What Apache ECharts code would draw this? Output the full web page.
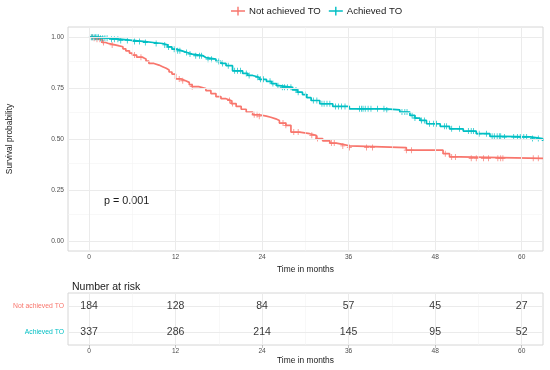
<!DOCTYPE html>
<html><head><meta charset="utf-8">
<script src="https://cdn.jsdelivr.net/npm/echarts@6/dist/echarts.min.js"></script>
<style>html,body{margin:0;padding:0;background:#fff}#c{width:550px;height:370px}</style>
</head><body><div id="c"></div>
<script>
// ---- data ----
const groups = ['Not achieved TO', 'Achieved TO'];
const notTime = [0, 0.6, 1.0, 1.8, 2.3, 2.8, 3.6, 4.2, 4.7, 5.1, 5.6, 6.0, 6.6, 7.4, 7.9, 8.3, 9.0, 9.7, 10.2, 10.7, 11.1, 11.5, 12.0, 12.8, 13.4, 13.9, 14.3, 15.2, 16.2, 16.9, 17.6, 18.3, 19.0, 19.7, 20.4, 21.1, 21.8, 22.7, 23.6, 24.6, 25.2, 25.9, 26.4, 27.3, 28.0, 29.2, 30.6, 31.5, 32.4, 33.4, 34.3, 35.2, 36.1, 44.0, 49.1, 50.0, 51.4];
const notSurv = [1.0, 0.995, 0.99, 0.974, 0.968, 0.962, 0.957, 0.953, 0.943, 0.933, 0.922, 0.912, 0.902, 0.893, 0.882, 0.871, 0.863, 0.855, 0.847, 0.839, 0.829, 0.819, 0.795, 0.786, 0.778, 0.767, 0.757, 0.748, 0.738, 0.723, 0.708, 0.698, 0.689, 0.674, 0.66, 0.646, 0.632, 0.619, 0.612, 0.607, 0.599, 0.591, 0.578, 0.567, 0.534, 0.526, 0.518, 0.502, 0.491, 0.48, 0.474, 0.466, 0.458, 0.445, 0.428, 0.412, 0.405];
const achTime = [0, 1.5, 2.8, 4.2, 6.0, 7.5, 8.9, 10.2, 10.9, 11.5, 12.2, 12.9, 13.6, 14.3, 15.8, 16.2, 17.6, 18.3, 19.0, 19.9, 21.3, 22.0, 22.7, 23.6, 24.6, 25.3, 26.0, 26.4, 28.2, 28.9, 29.6, 30.2, 30.8, 32.0, 33.8, 36.1, 41.2, 43.1, 44.5, 45.2, 45.9, 46.8, 48.7, 50.0, 51.9, 53.7, 55.6, 57.4, 61.2, 62.9];
const achSurv = [1.0, 0.995, 0.99, 0.984, 0.979, 0.974, 0.969, 0.962, 0.952, 0.941, 0.933, 0.925, 0.917, 0.909, 0.9, 0.892, 0.881, 0.871, 0.86, 0.835, 0.822, 0.812, 0.803, 0.793, 0.783, 0.772, 0.762, 0.754, 0.741, 0.73, 0.718, 0.703, 0.689, 0.673, 0.66, 0.648, 0.643, 0.632, 0.616, 0.603, 0.591, 0.575, 0.562, 0.55, 0.539, 0.526, 0.513, 0.51, 0.502, 0.49];
const notCens = [0.4, 0.7, 1.1, 1.5, 2.0, 3.2, 6.3, 7.2, 12.5, 13.0, 14.3, 19.5, 19.9, 22.9, 23.3, 23.6, 26.9, 27.3, 28.4, 29.0, 30.9, 31.7, 33.6, 34.0, 35.2, 36.1, 38.5, 39.3, 44.0, 44.7, 49.4, 50.3, 50.8, 53.0, 53.7, 54.7, 55.4, 56.7, 57.1, 57.4, 61.6, 62.3];
const achCens = [0.3, 0.5, 0.7, 0.9, 1.1, 1.3, 1.6, 1.9, 2.2, 2.5, 3.1, 3.5, 4.0, 4.4, 5.3, 6.3, 7.0, 7.8, 9.3, 10.5, 11.0, 11.8, 12.3, 12.6, 13.5, 14.0, 14.8, 15.3, 15.6, 16.5, 17.0, 18.0, 18.5, 19.3, 20.2, 20.6, 21.0, 21.8, 22.2, 23.4, 23.8, 24.2, 25.1, 25.5, 26.2, 26.8, 27.1, 27.5, 28.0, 28.7, 29.0, 30.0, 31.1, 31.6, 32.3, 32.6, 33.0, 33.4, 34.2, 34.6, 35.0, 35.5, 37.5, 37.8, 38.0, 38.3, 38.7, 39.1, 40.0, 40.9, 41.3, 43.4, 43.8, 44.1, 44.8, 45.2, 46.1, 46.5, 47.2, 47.8, 48.2, 49.3, 49.6, 50.3, 51.4, 52.6, 53.0, 53.3, 54.1, 55.1, 55.9, 56.2, 56.6, 56.9, 57.1, 57.6, 58.9, 59.4, 59.8, 60.3, 60.7, 61.5, 62.3];
const riskTimes = [0, 12, 24, 36, 48, 60];
const riskNot = [184, 128, 84, 57, 45, 27];
const riskAch = [337, 286, 214, 145, 95, 52];
const xTicks = [0, 12, 24, 36, 48, 60];
const xMinor = [6, 18, 30, 42, 54];
const yTicks = [0, 0.25, 0.5, 0.75, 1];
const yMinor = [0.125, 0.375, 0.625, 0.875];
const pText = 'p = 0.001';

// ---- styles ----
const colors = ['#F8766D', '#00BFC4'];
const FONT = 'Liberation Sans, Arial, sans-serif';
const xMin = -2.92, xMax = 62.96;
const majorCol = '#ebebeb', minorCol = '#f4f4f4', borderCol = '#d6d6d6', tickCol = '#b3b3b3';

function survAt(times, surv, t) { let v = surv[0]; for (let i = 0; i < times.length; i++) if (times[i] <= t) v = surv[i]; return v; }
function stepData(times, surv) { const d = times.map((t, i) => [t, surv[i]]); d.push([xMax, surv[surv.length - 1]]); return d; }
function censData(times, surv, cens) { return cens.map(t => [t, survAt(times, surv, t)]); }

const crossIcon = 'path://M4.3,0H5.7V10H4.3Z M0,4.3H10V5.7H0Z';
const legendIcon = 'path://M0,4.2H16V5.8H0Z M7.2,0H8.8V10H7.2Z';

function gridLines(vals, axis, col, w) { return vals.map(v => ({ [axis]: v, lineStyle: { color: col, width: w, type: 'solid' } })); }

const xAxisCommon = {
  type: 'value', min: xMin, max: xMax,
  splitLine: { show: false }, axisLine: { show: false },
  axisTick: { show: true, length: 3, lineStyle: { color: tickCol, width: 0.8 }, customValues: xTicks },
  axisLabel: { customValues: xTicks, fontSize: 6.6, color: '#4d4d4d', fontFamily: FONT, margin: 3 },
  name: 'Time in months', nameLocation: 'middle',
  nameTextStyle: { fontSize: 8.4, color: '#1a1a1a', fontFamily: FONT }
};

const chart = echarts.init(document.getElementById('c'), null, { renderer: 'canvas' });
chart.setOption({
  animation: false,
  backgroundColor: '#fff',
  textStyle: { fontFamily: FONT },
  legend: {
    data: groups, top: 1, left: 226, itemWidth: 14, itemHeight: 9, itemGap: 8,
    icon: legendIcon,
    textStyle: { fontSize: 9.6, color: '#1a1a1a', fontFamily: FONT, padding: [0, 0, 0, -1] },
    selectedMode: false
  },
  grid: [
    { left: 68, right: 7, top: 27, bottom: 119, show: true, borderColor: borderCol, borderWidth: 1, backgroundColor: '#fff', outerBoundsMode: 'none' },
    { left: 68, right: 7, top: 293, bottom: 25, show: true, borderColor: borderCol, borderWidth: 1, backgroundColor: '#fff', outerBoundsMode: 'none' }
  ],
  xAxis: [
    Object.assign({}, xAxisCommon, { gridIndex: 0, nameGap: 11.5 }),
    Object.assign({}, xAxisCommon, { gridIndex: 1, nameGap: 11.5 })
  ],
  yAxis: [
    {
      gridIndex: 0, type: 'value', min: -0.05, max: 1.05,
      splitLine: { show: false }, axisLine: { show: false },
      axisTick: { show: true, length: 3, lineStyle: { color: tickCol, width: 0.8 }, customValues: yTicks },
      axisLabel: { customValues: yTicks, formatter: v => v.toFixed(2), fontSize: 6.6, color: '#4d4d4d', fontFamily: FONT, margin: 4 },
      name: 'Survival probability', nameLocation: 'middle', nameGap: 54,
      nameTextStyle: { fontSize: 8.4, color: '#1a1a1a', fontFamily: FONT }
    },
    {
      gridIndex: 1, type: 'category', data: ['Achieved TO', 'Not achieved TO'],
      splitLine: { show: false }, axisLine: { show: false },
      axisTick: { show: true, length: 3, alignWithLabel: true, lineStyle: { color: tickCol, width: 0.8 } },
      axisLabel: { fontSize: 6.8, fontFamily: FONT, margin: 4, color: v => (v === groups[0] ? colors[0] : colors[1]) }
    }
  ],
  title: {
    text: 'Number at risk', left: 67, top: 277,
    textStyle: { fontSize: 10.5, fontWeight: 'normal', color: '#1a1a1a', fontFamily: FONT }
  },
  graphic: [
    { type: 'text', left: 104, top: 196, style: { text: pText, fontSize: 10.8, fill: '#1a1a1a', fontFamily: FONT } }
  ],
  series: [
    {
      type: 'line', xAxisIndex: 0, yAxisIndex: 0, data: [], z: 0, silent: true,
      markLine: {
        silent: true, symbol: ['none', 'none'], label: { show: false }, animation: false,
        data: [].concat(gridLines(yMinor, 'yAxis', minorCol, 0.6), gridLines(xMinor, 'xAxis', minorCol, 0.6),
          gridLines(yTicks, 'yAxis', majorCol, 1), gridLines(xTicks, 'xAxis', majorCol, 1))
      }
    },
    {
      type: 'line', xAxisIndex: 1, yAxisIndex: 1, data: [], z: 0, silent: true,
      markLine: {
        silent: true, symbol: ['none', 'none'], label: { show: false }, animation: false,
        data: [].concat(gridLines(xMinor, 'xAxis', minorCol, 0.6), gridLines(xTicks, 'xAxis', majorCol, 1),
          gridLines(groups, 'yAxis', majorCol, 1))
      }
    },
    {
      name: groups[0], type: 'line', step: 'end', xAxisIndex: 0, yAxisIndex: 0, showSymbol: false, z: 3,
      data: stepData(notTime, notSurv), lineStyle: { color: colors[0], width: 1.7 }, itemStyle: { color: colors[0] }
    },
    {
      name: groups[1], type: 'line', step: 'end', xAxisIndex: 0, yAxisIndex: 0, showSymbol: false, z: 3,
      data: stepData(achTime, achSurv), lineStyle: { color: colors[1], width: 1.7 }, itemStyle: { color: colors[1] }
    },
    {
      name: groups[0], type: 'scatter', xAxisIndex: 0, yAxisIndex: 0, symbol: crossIcon, symbolSize: [5, 6], z: 4,
      data: censData(notTime, notSurv, notCens), itemStyle: { color: colors[0], opacity: 1 }
    },
    {
      name: groups[1], type: 'scatter', xAxisIndex: 0, yAxisIndex: 0, symbol: crossIcon, symbolSize: [5, 6], z: 4,
      data: censData(achTime, achSurv, achCens), itemStyle: { color: colors[1], opacity: 1 }
    },
    {
      type: 'scatter', xAxisIndex: 1, yAxisIndex: 1, symbolSize: 0, z: 5,
      data: riskTimes.map((t, i) => [t, groups[0], riskNot[i]]),
      label: { show: true, position: 'inside', formatter: p => String(p.value[2]), fontSize: 10.5, color: '#000', fontFamily: FONT }
    },
    {
      type: 'scatter', xAxisIndex: 1, yAxisIndex: 1, symbolSize: 0, z: 5,
      data: riskTimes.map((t, i) => [t, groups[1], riskAch[i]]),
      label: { show: true, position: 'inside', formatter: p => String(p.value[2]), fontSize: 10.5, color: '#000', fontFamily: FONT }
    }
  ]
});
</script>
</body></html>
